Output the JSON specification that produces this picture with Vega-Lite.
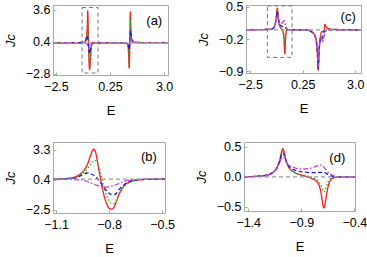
{
  "$schema": "https://vega.github.io/schema/vega-lite/v6.json",
  "padding": {"left": 3, "top": 0, "right": 0, "bottom": 0},
  "config": {
    "view": {"stroke": "#aaaaaa", "strokeWidth": 1},
    "font": "Liberation Sans",
    "axis": {
      "domain": false, "grid": false, "labelFont": "Liberation Sans", "labelFontSize": 12.5, "labelColor": "#000", "labelOverlap": false, "labelFlush": false,
      "tickColor": "#aaaaaa", "tickSize": -3, "labelPadding": 6,
      "titleFont": "Liberation Sans", "titleFontSize": 13, "titleFontWeight": "normal", "titleColor": "#000"
    },
    "axisY": {"titleFontStyle": "italic", "titlePadding": 8, "labelOverlap": false},
    "axisX": {"titlePadding": 12, "labelPadding": 8}
  },
  "datasets": {
    "a": [
      {"s":"1r","E":-2.65,"J":0.3},{"s":"1r","E":-1.3,"J":0.3},{"s":"1r","E":-1.05,"J":0.35},{"s":"1r","E":-0.97,"J":0.6},{"s":"1r","E":-0.93,"J":1.2},{"s":"1r","E":-0.9,"J":2.2},{"s":"1r","E":-0.885,"J":3.5},{"s":"1r","E":-0.875,"J":3.3},{"s":"1r","E":-0.86,"J":1.8},{"s":"1r","E":-0.845,"J":0.5},{"s":"1r","E":-0.83,"J":-0.9},{"s":"1r","E":-0.81,"J":-1.9},{"s":"1r","E":-0.79,"J":-2.4},{"s":"1r","E":-0.775,"J":-2.3},{"s":"1r","E":-0.755,"J":-1.7},{"s":"1r","E":-0.73,"J":-0.8},{"s":"1r","E":-0.7,"J":-0.1},{"s":"1r","E":-0.66,"J":0.2},{"s":"1r","E":-0.55,"J":0.3},{"s":"1r","E":1.0,"J":0.3},{"s":"1r","E":1.15,"J":0.15},{"s":"1r","E":1.19,"J":-0.6},{"s":"1r","E":1.215,"J":-2.0},{"s":"1r","E":1.23,"J":-2.25},{"s":"1r","E":1.245,"J":-1.2},{"s":"1r","E":1.26,"J":0.8},{"s":"1r","E":1.275,"J":2.8},{"s":"1r","E":1.285,"J":3.4},{"s":"1r","E":1.3,"J":2.4},{"s":"1r","E":1.33,"J":1.0},{"s":"1r","E":1.38,"J":0.5},{"s":"1r","E":1.5,"J":0.33},{"s":"1r","E":3.2,"J":0.3},
      {"s":"2g","E":-2.65,"J":0.3},{"s":"2g","E":-1.3,"J":0.3},{"s":"2g","E":-1.0,"J":0.4},{"s":"2g","E":-0.93,"J":1.0},{"s":"2g","E":-0.9,"J":1.8},{"s":"2g","E":-0.88,"J":2.3},{"s":"2g","E":-0.865,"J":1.6},{"s":"2g","E":-0.845,"J":0.6},{"s":"2g","E":-0.83,"J":-0.3},{"s":"2g","E":-0.81,"J":-1.2},{"s":"2g","E":-0.79,"J":-1.8},{"s":"2g","E":-0.775,"J":-1.95},{"s":"2g","E":-0.755,"J":-1.5},{"s":"2g","E":-0.73,"J":-0.7},{"s":"2g","E":-0.7,"J":-0.1},{"s":"2g","E":-0.66,"J":0.2},{"s":"2g","E":-0.55,"J":0.3},{"s":"2g","E":1.0,"J":0.3},{"s":"2g","E":1.15,"J":0.15},{"s":"2g","E":1.19,"J":-0.4},{"s":"2g","E":1.215,"J":-1.6},{"s":"2g","E":1.23,"J":-1.9},{"s":"2g","E":1.245,"J":-0.9},{"s":"2g","E":1.26,"J":0.7},{"s":"2g","E":1.275,"J":2.2},{"s":"2g","E":1.285,"J":2.6},{"s":"2g","E":1.3,"J":1.9},{"s":"2g","E":1.33,"J":0.9},{"s":"2g","E":1.38,"J":0.45},{"s":"2g","E":1.5,"J":0.33},{"s":"2g","E":3.2,"J":0.3},
      {"s":"3b","E":-2.65,"J":0.3},{"s":"3b","E":-1.3,"J":0.3},{"s":"3b","E":-1.0,"J":0.45},{"s":"3b","E":-0.95,"J":0.8},{"s":"3b","E":-0.915,"J":1.0},{"s":"3b","E":-0.88,"J":0.7},{"s":"3b","E":-0.85,"J":0.2},{"s":"3b","E":-0.82,"J":-0.4},{"s":"3b","E":-0.79,"J":-0.75},{"s":"3b","E":-0.77,"J":-0.8},{"s":"3b","E":-0.74,"J":-0.4},{"s":"3b","E":-0.71,"J":0.0},{"s":"3b","E":-0.67,"J":0.2},{"s":"3b","E":-0.55,"J":0.3},{"s":"3b","E":1.0,"J":0.3},{"s":"3b","E":1.15,"J":0.2},{"s":"3b","E":1.2,"J":-0.1},{"s":"3b","E":1.23,"J":-0.4},{"s":"3b","E":1.25,"J":0.2},{"s":"3b","E":1.28,"J":1.2},{"s":"3b","E":1.3,"J":1.5},{"s":"3b","E":1.33,"J":1.0},{"s":"3b","E":1.38,"J":0.55},{"s":"3b","E":1.5,"J":0.33},{"s":"3b","E":3.2,"J":0.3},
      {"s":"4m","E":-2.65,"J":0.3},{"s":"4m","E":-1.3,"J":0.3},{"s":"4m","E":-1.0,"J":0.28},{"s":"4m","E":-0.92,"J":0.15},{"s":"4m","E":-0.86,"J":-0.1},{"s":"4m","E":-0.82,"J":-0.25},{"s":"4m","E":-0.78,"J":-0.15},{"s":"4m","E":-0.73,"J":0.05},{"s":"4m","E":-0.67,"J":0.25},{"s":"4m","E":-0.55,"J":0.3},{"s":"4m","E":1.0,"J":0.3},{"s":"4m","E":1.15,"J":0.25},{"s":"4m","E":1.22,"J":0.05},{"s":"4m","E":1.26,"J":0.3},{"s":"4m","E":1.3,"J":0.75},{"s":"4m","E":1.34,"J":0.6},{"s":"4m","E":1.4,"J":0.4},{"s":"4m","E":1.5,"J":0.32},{"s":"4m","E":3.2,"J":0.3},
      {"s":"5k","E":-2.65,"J":0.3},{"s":"5k","E":3.2,"J":0.3}
    ],
    "b": [
      {"s":"1r","E":-1.117,"J":0.45},{"s":"1r","E":-1.05,"J":0.5},{"s":"1r","E":-1.0,"J":0.62},{"s":"1r","E":-0.97,"J":0.85},{"s":"1r","E":-0.95,"J":1.15},{"s":"1r","E":-0.93,"J":1.6},{"s":"1r","E":-0.915,"J":2.2},{"s":"1r","E":-0.905,"J":2.7},{"s":"1r","E":-0.895,"J":3.15},{"s":"1r","E":-0.888,"J":3.35},{"s":"1r","E":-0.882,"J":3.3},{"s":"1r","E":-0.875,"J":3.0},{"s":"1r","E":-0.868,"J":2.4},{"s":"1r","E":-0.86,"J":1.6},{"s":"1r","E":-0.85,"J":0.7},{"s":"1r","E":-0.84,"J":-0.2},{"s":"1r","E":-0.83,"J":-1.0},{"s":"1r","E":-0.82,"J":-1.6},{"s":"1r","E":-0.81,"J":-2.05},{"s":"1r","E":-0.8,"J":-2.35},{"s":"1r","E":-0.79,"J":-2.45},{"s":"1r","E":-0.78,"J":-2.42},{"s":"1r","E":-0.77,"J":-2.2},{"s":"1r","E":-0.76,"J":-1.8},{"s":"1r","E":-0.75,"J":-1.3},{"s":"1r","E":-0.74,"J":-0.9},{"s":"1r","E":-0.725,"J":-0.45},{"s":"1r","E":-0.71,"J":-0.1},{"s":"1r","E":-0.69,"J":0.12},{"s":"1r","E":-0.67,"J":0.27},{"s":"1r","E":-0.64,"J":0.37},{"s":"1r","E":-0.6,"J":0.42},{"s":"1r","E":-0.55,"J":0.44},{"s":"1r","E":-0.483,"J":0.45},
      {"s":"2g","E":-1.117,"J":0.45},{"s":"2g","E":-1.0,"J":0.6},{"s":"2g","E":-0.96,"J":0.85},{"s":"2g","E":-0.93,"J":1.3},{"s":"2g","E":-0.91,"J":1.75},{"s":"2g","E":-0.895,"J":2.1},{"s":"2g","E":-0.88,"J":2.27},{"s":"2g","E":-0.87,"J":2.2},{"s":"2g","E":-0.86,"J":1.8},{"s":"2g","E":-0.85,"J":1.2},{"s":"2g","E":-0.84,"J":0.5},{"s":"2g","E":-0.83,"J":-0.2},{"s":"2g","E":-0.82,"J":-0.8},{"s":"2g","E":-0.81,"J":-1.3},{"s":"2g","E":-0.8,"J":-1.65},{"s":"2g","E":-0.79,"J":-1.85},{"s":"2g","E":-0.775,"J":-1.92},{"s":"2g","E":-0.76,"J":-1.7},{"s":"2g","E":-0.75,"J":-1.3},{"s":"2g","E":-0.735,"J":-0.8},{"s":"2g","E":-0.72,"J":-0.4},{"s":"2g","E":-0.7,"J":-0.05},{"s":"2g","E":-0.68,"J":0.15},{"s":"2g","E":-0.65,"J":0.32},{"s":"2g","E":-0.6,"J":0.42},{"s":"2g","E":-0.483,"J":0.45},
      {"s":"3b","E":-1.117,"J":0.45},{"s":"3b","E":-1.0,"J":0.55},{"s":"3b","E":-0.97,"J":0.7},{"s":"3b","E":-0.95,"J":0.88},{"s":"3b","E":-0.93,"J":1.02},{"s":"3b","E":-0.915,"J":1.05},{"s":"3b","E":-0.9,"J":0.95},{"s":"3b","E":-0.88,"J":0.75},{"s":"3b","E":-0.86,"J":0.4},{"s":"3b","E":-0.84,"J":-0.1},{"s":"3b","E":-0.82,"J":-0.55},{"s":"3b","E":-0.8,"J":-0.9},{"s":"3b","E":-0.785,"J":-1.05},{"s":"3b","E":-0.77,"J":-1.05},{"s":"3b","E":-0.755,"J":-0.85},{"s":"3b","E":-0.74,"J":-0.5},{"s":"3b","E":-0.72,"J":-0.15},{"s":"3b","E":-0.7,"J":0.1},{"s":"3b","E":-0.67,"J":0.3},{"s":"3b","E":-0.63,"J":0.4},{"s":"3b","E":-0.483,"J":0.45},
      {"s":"4m","E":-1.117,"J":0.45},{"s":"4m","E":-1.0,"J":0.42},{"s":"4m","E":-0.95,"J":0.35},{"s":"4m","E":-0.92,"J":0.2},{"s":"4m","E":-0.89,"J":0.0},{"s":"4m","E":-0.86,"J":-0.2},{"s":"4m","E":-0.83,"J":-0.32},{"s":"4m","E":-0.8,"J":-0.3},{"s":"4m","E":-0.77,"J":-0.15},{"s":"4m","E":-0.74,"J":0.05},{"s":"4m","E":-0.71,"J":0.25},{"s":"4m","E":-0.67,"J":0.38},{"s":"4m","E":-0.6,"J":0.44},{"s":"4m","E":-0.483,"J":0.45},
      {"s":"5k","E":-1.117,"J":0.45},{"s":"5k","E":-0.483,"J":0.45}
    ],
    "c": [
      {"s":"1r","E":-2.72,"J":0},{"s":"1r","E":-1.5,"J":0.01},{"s":"1r","E":-1.3,"J":0.03},{"s":"1r","E":-1.2,"J":0.1},{"s":"1r","E":-1.13,"J":0.3},{"s":"1r","E":-1.08,"J":0.47},{"s":"1r","E":-1.04,"J":0.3},{"s":"1r","E":-0.98,"J":0.12},{"s":"1r","E":-0.9,"J":0.04},{"s":"1r","E":-0.8,"J":-0.03},{"s":"1r","E":-0.74,"J":-0.15},{"s":"1r","E":-0.69,"J":-0.52},{"s":"1r","E":-0.65,"J":-0.2},{"s":"1r","E":-0.6,"J":-0.03},{"s":"1r","E":-0.5,"J":0},{"s":"1r","E":0.4,"J":0},{"s":"1r","E":0.7,"J":-0.04},{"s":"1r","E":0.85,"J":-0.1},{"s":"1r","E":0.95,"J":-0.22},{"s":"1r","E":1.01,"J":-0.45},{"s":"1r","E":1.06,"J":-0.88},{"s":"1r","E":1.1,"J":-0.55},{"s":"1r","E":1.16,"J":-0.2},{"s":"1r","E":1.25,"J":-0.04},{"s":"1r","E":1.36,"J":-0.03},{"s":"1r","E":1.41,"J":0.12},{"s":"1r","E":1.46,"J":0.08},{"s":"1r","E":1.55,"J":0.03},{"s":"1r","E":1.8,"J":0.01},{"s":"1r","E":3.3,"J":0},
      {"s":"2g","E":-2.72,"J":0},{"s":"2g","E":-1.5,"J":0.01},{"s":"2g","E":-1.3,"J":0.03},{"s":"2g","E":-1.2,"J":0.1},{"s":"2g","E":-1.13,"J":0.28},{"s":"2g","E":-1.08,"J":0.42},{"s":"2g","E":-1.04,"J":0.28},{"s":"2g","E":-0.98,"J":0.12},{"s":"2g","E":-0.9,"J":0.04},{"s":"2g","E":-0.8,"J":-0.02},{"s":"2g","E":-0.74,"J":-0.08},{"s":"2g","E":-0.69,"J":-0.25},{"s":"2g","E":-0.65,"J":-0.1},{"s":"2g","E":-0.6,"J":-0.02},{"s":"2g","E":-0.5,"J":0},{"s":"2g","E":0.4,"J":0},{"s":"2g","E":0.7,"J":-0.04},{"s":"2g","E":0.85,"J":-0.1},{"s":"2g","E":0.95,"J":-0.22},{"s":"2g","E":1.01,"J":-0.45},{"s":"2g","E":1.06,"J":-0.85},{"s":"2g","E":1.1,"J":-0.55},{"s":"2g","E":1.16,"J":-0.2},{"s":"2g","E":1.25,"J":-0.05},{"s":"2g","E":1.36,"J":-0.02},{"s":"2g","E":1.41,"J":0.06},{"s":"2g","E":1.46,"J":0.04},{"s":"2g","E":1.55,"J":0.02},{"s":"2g","E":1.8,"J":0.01},{"s":"2g","E":3.3,"J":0},
      {"s":"3b","E":-2.72,"J":0},{"s":"3b","E":-1.5,"J":0.01},{"s":"3b","E":-1.3,"J":0.03},{"s":"3b","E":-1.2,"J":0.1},{"s":"3b","E":-1.13,"J":0.27},{"s":"3b","E":-1.08,"J":0.4},{"s":"3b","E":-1.04,"J":0.28},{"s":"3b","E":-0.98,"J":0.15},{"s":"3b","E":-0.9,"J":0.09},{"s":"3b","E":-0.8,"J":0.07},{"s":"3b","E":-0.7,"J":0.07},{"s":"3b","E":-0.62,"J":0.03},{"s":"3b","E":-0.5,"J":0},{"s":"3b","E":0.4,"J":0},{"s":"3b","E":0.7,"J":-0.04},{"s":"3b","E":0.85,"J":-0.1},{"s":"3b","E":0.95,"J":-0.22},{"s":"3b","E":1.01,"J":-0.45},{"s":"3b","E":1.06,"J":-0.84},{"s":"3b","E":1.1,"J":-0.5},{"s":"3b","E":1.15,"J":-0.25},{"s":"3b","E":1.2,"J":-0.2},{"s":"3b","E":1.26,"J":-0.22},{"s":"3b","E":1.32,"J":-0.1},{"s":"3b","E":1.4,"J":-0.03},{"s":"3b","E":1.6,"J":0},{"s":"3b","E":3.3,"J":0},
      {"s":"4m","E":-2.72,"J":0},{"s":"4m","E":-1.5,"J":0.01},{"s":"4m","E":-1.3,"J":0.03},{"s":"4m","E":-1.2,"J":0.1},{"s":"4m","E":-1.13,"J":0.24},{"s":"4m","E":-1.08,"J":0.33},{"s":"4m","E":-1.04,"J":0.26},{"s":"4m","E":-0.98,"J":0.18},{"s":"4m","E":-0.9,"J":0.13},{"s":"4m","E":-0.8,"J":0.16},{"s":"4m","E":-0.72,"J":0.2},{"s":"4m","E":-0.65,"J":0.1},{"s":"4m","E":-0.59,"J":0.03},{"s":"4m","E":-0.5,"J":0},{"s":"4m","E":0.4,"J":0},{"s":"4m","E":0.7,"J":-0.04},{"s":"4m","E":0.85,"J":-0.1},{"s":"4m","E":0.95,"J":-0.22},{"s":"4m","E":1.01,"J":-0.45},{"s":"4m","E":1.06,"J":-0.8},{"s":"4m","E":1.1,"J":-0.45},{"s":"4m","E":1.15,"J":-0.2},{"s":"4m","E":1.22,"J":-0.15},{"s":"4m","E":1.3,"J":-0.28},{"s":"4m","E":1.36,"J":-0.15},{"s":"4m","E":1.45,"J":-0.03},{"s":"4m","E":1.6,"J":0},{"s":"4m","E":3.3,"J":0},
      {"s":"5k","E":-2.72,"J":0},{"s":"5k","E":3.3,"J":0}
    ],
    "d": [
      {"s":"1r","E":-1.44,"J":0},{"s":"1r","E":-1.3,"J":0.01},{"s":"1r","E":-1.22,"J":0.03},{"s":"1r","E":-1.17,"J":0.07},{"s":"1r","E":-1.13,"J":0.15},{"s":"1r","E":-1.1,"J":0.3},{"s":"1r","E":-1.085,"J":0.42},{"s":"1r","E":-1.075,"J":0.47},{"s":"1r","E":-1.065,"J":0.44},{"s":"1r","E":-1.05,"J":0.32},{"s":"1r","E":-1.03,"J":0.2},{"s":"1r","E":-1.0,"J":0.12},{"s":"1r","E":-0.96,"J":0.07},{"s":"1r","E":-0.92,"J":0.04},{"s":"1r","E":-0.88,"J":0.02},{"s":"1r","E":-0.84,"J":0.0},{"s":"1r","E":-0.8,"J":-0.03},{"s":"1r","E":-0.76,"J":-0.07},{"s":"1r","E":-0.73,"J":-0.15},{"s":"1r","E":-0.71,"J":-0.3},{"s":"1r","E":-0.695,"J":-0.48},{"s":"1r","E":-0.685,"J":-0.52},{"s":"1r","E":-0.675,"J":-0.45},{"s":"1r","E":-0.66,"J":-0.28},{"s":"1r","E":-0.64,"J":-0.12},{"s":"1r","E":-0.62,"J":-0.05},{"s":"1r","E":-0.58,"J":-0.01},{"s":"1r","E":-0.5,"J":0},{"s":"1r","E":-0.393,"J":0},
      {"s":"2g","E":-1.44,"J":0},{"s":"2g","E":-1.3,"J":0.01},{"s":"2g","E":-1.22,"J":0.03},{"s":"2g","E":-1.17,"J":0.07},{"s":"2g","E":-1.13,"J":0.15},{"s":"2g","E":-1.1,"J":0.29},{"s":"2g","E":-1.085,"J":0.39},{"s":"2g","E":-1.075,"J":0.42},{"s":"2g","E":-1.065,"J":0.4},{"s":"2g","E":-1.05,"J":0.31},{"s":"2g","E":-1.03,"J":0.2},{"s":"2g","E":-1.0,"J":0.12},{"s":"2g","E":-0.96,"J":0.07},{"s":"2g","E":-0.92,"J":0.04},{"s":"2g","E":-0.88,"J":0.02},{"s":"2g","E":-0.84,"J":0.01},{"s":"2g","E":-0.8,"J":-0.01},{"s":"2g","E":-0.76,"J":-0.04},{"s":"2g","E":-0.73,"J":-0.09},{"s":"2g","E":-0.71,"J":-0.16},{"s":"2g","E":-0.695,"J":-0.23},{"s":"2g","E":-0.685,"J":-0.25},{"s":"2g","E":-0.675,"J":-0.22},{"s":"2g","E":-0.66,"J":-0.14},{"s":"2g","E":-0.64,"J":-0.06},{"s":"2g","E":-0.62,"J":-0.02},{"s":"2g","E":-0.58,"J":0},{"s":"2g","E":-0.393,"J":0},
      {"s":"3b","E":-1.44,"J":0},{"s":"3b","E":-1.3,"J":0.01},{"s":"3b","E":-1.22,"J":0.03},{"s":"3b","E":-1.17,"J":0.07},{"s":"3b","E":-1.13,"J":0.15},{"s":"3b","E":-1.1,"J":0.28},{"s":"3b","E":-1.085,"J":0.37},{"s":"3b","E":-1.075,"J":0.4},{"s":"3b","E":-1.065,"J":0.38},{"s":"3b","E":-1.05,"J":0.3},{"s":"3b","E":-1.03,"J":0.21},{"s":"3b","E":-1.0,"J":0.15},{"s":"3b","E":-0.96,"J":0.11},{"s":"3b","E":-0.92,"J":0.09},{"s":"3b","E":-0.88,"J":0.08},{"s":"3b","E":-0.82,"J":0.07},{"s":"3b","E":-0.76,"J":0.07},{"s":"3b","E":-0.71,"J":0.075},{"s":"3b","E":-0.68,"J":0.07},{"s":"3b","E":-0.65,"J":0.04},{"s":"3b","E":-0.62,"J":0.015},{"s":"3b","E":-0.58,"J":0},{"s":"3b","E":-0.393,"J":0},
      {"s":"4m","E":-1.44,"J":0},{"s":"4m","E":-1.3,"J":0.01},{"s":"4m","E":-1.22,"J":0.03},{"s":"4m","E":-1.17,"J":0.07},{"s":"4m","E":-1.13,"J":0.14},{"s":"4m","E":-1.1,"J":0.25},{"s":"4m","E":-1.085,"J":0.31},{"s":"4m","E":-1.075,"J":0.33},{"s":"4m","E":-1.065,"J":0.32},{"s":"4m","E":-1.05,"J":0.27},{"s":"4m","E":-1.03,"J":0.22},{"s":"4m","E":-1.0,"J":0.18},{"s":"4m","E":-0.96,"J":0.15},{"s":"4m","E":-0.92,"J":0.13},{"s":"4m","E":-0.88,"J":0.13},{"s":"4m","E":-0.82,"J":0.14},{"s":"4m","E":-0.78,"J":0.16},{"s":"4m","E":-0.74,"J":0.19},{"s":"4m","E":-0.72,"J":0.2},{"s":"4m","E":-0.69,"J":0.17},{"s":"4m","E":-0.66,"J":0.1},{"s":"4m","E":-0.62,"J":0.04},{"s":"4m","E":-0.58,"J":0.01},{"s":"4m","E":-0.53,"J":0},{"s":"4m","E":-0.393,"J":0},
      {"s":"5k","E":-1.44,"J":0},{"s":"5k","E":-0.393,"J":0}
    ]
  },
  "spacing": 22,
  "vconcat": [
    {"spacing": 22, "hconcat": [
      {"width": 115, "height": 70,
       "encoding": {
         "x": {"field": "E", "type": "quantitative", "scale": {"domain": [-2.65, 3.2], "nice": false, "zero": false}, "axis": {"values": [-2.5, 0.25, 3.0], "labelExpr": "datum.value == 0.25 ? '0.25' : format(datum.value, '.1f')", "title": "E", "labelOverlap": false}},
         "y": {"field": "J", "type": "quantitative", "scale": {"domain": [-2.95, 4.1], "nice": false, "zero": false}, "axis": {"values": [-2.8, 0.4, 3.6], "labelExpr": "format(datum.value, '.1f')", "title": "Jc", "labelOverlap": false}}
       },
       "layer": [
        {"data": {"name": "a"}, "mark": {"type": "line", "strokeWidth": 1.3, "interpolate": "monotone"},
         "encoding": {
          "color": {"field": "s", "type": "nominal", "legend": null, "scale": {"domain": ["1r","2g","3b","4m","5k"], "range": ["#ff1a1a","#2faa2f","#1a1ae6","#c040d0","#9a9a9a"]}},
          "strokeDash": {"field": "s", "type": "nominal", "legend": null, "scale": {"domain": ["1r","2g","3b","4m","5k"], "range": [[1,0],[1.5,2],[4,2.5],[5,2,1.5,2],[4,3]]}}
         }},
        {"data": {"values": [{"E": -1.17, "E2": -0.36, "J": -2.75, "J2": 3.85}]}, "mark": {"type": "rect", "fill": null, "stroke": "#777777", "strokeDash": [4, 3], "strokeWidth": 1},
         "encoding": {"x2": {"field": "E2"}, "y2": {"field": "J2"}}},
        {"data": {"values": [{"E": 2.5, "J": 2.5, "t": "(a)"}]}, "mark": {"type": "text", "fontSize": 13, "font": "Liberation Sans"},
         "encoding": {"text": {"field": "t"}}}
       ]},
      {"width": 115, "height": 68,
       "encoding": {
         "x": {"field": "E", "type": "quantitative", "scale": {"domain": [-2.72, 3.3], "nice": false, "zero": false}, "axis": {"values": [-2.5, 0.25, 3.0], "labelExpr": "datum.value == 0.25 ? '0.25' : format(datum.value, '.1f')", "title": "E", "labelOverlap": false}},
         "y": {"field": "J", "type": "quantitative", "scale": {"domain": [-0.94, 0.54], "nice": false, "zero": false}, "axis": {"values": [-0.9, -0.2, 0.5], "labelExpr": "format(datum.value, '.1f')", "title": "Jc", "labelOverlap": false}}
       },
       "layer": [
        {"data": {"name": "c"}, "mark": {"type": "line", "strokeWidth": 1.3, "interpolate": "monotone"},
         "encoding": {
          "color": {"field": "s", "type": "nominal", "legend": null, "scale": {"domain": ["1r","2g","3b","4m","5k"], "range": ["#ff1a1a","#2faa2f","#1a1ae6","#c040d0","#9a9a9a"]}},
          "strokeDash": {"field": "s", "type": "nominal", "legend": null, "scale": {"domain": ["1r","2g","3b","4m","5k"], "range": [[1,0],[1.5,2],[4,2.5],[5,2,1.5,2],[4,3]]}}
         }},
        {"data": {"values": [{"E": -1.6, "E2": -0.31, "J": -0.6, "J2": 0.52}]}, "mark": {"type": "rect", "fill": null, "stroke": "#777777", "strokeDash": [4, 3], "strokeWidth": 1},
         "encoding": {"x2": {"field": "E2"}, "y2": {"field": "J2"}}},
        {"data": {"values": [{"E": 2.63, "J": 0.27, "t": "(c)"}]}, "mark": {"type": "text", "fontSize": 13, "font": "Liberation Sans"},
         "encoding": {"text": {"field": "t"}}}
       ]}
    ]},
    {"spacing": 19, "hconcat": [
      {"width": 112, "height": 71,
       "encoding": {
         "x": {"field": "E", "type": "quantitative", "scale": {"domain": [-1.117, -0.483], "nice": false, "zero": false}, "axis": {"values": [-1.1, -0.8, -0.5], "labelExpr": "format(datum.value, '.1f')", "title": "E", "labelOverlap": false}},
         "y": {"field": "J", "type": "quantitative", "scale": {"domain": [-2.82, 4.04], "nice": false, "zero": false}, "axis": {"values": [-2.5, 0.4, 3.3], "labelExpr": "format(datum.value, '.1f')", "title": "Jc", "labelOverlap": false}}
       },
       "layer": [
        {"data": {"name": "b"}, "mark": {"type": "line", "strokeWidth": 1.3, "interpolate": "monotone"},
         "encoding": {
          "color": {"field": "s", "type": "nominal", "legend": null, "scale": {"domain": ["1r","2g","3b","4m","5k"], "range": ["#ff1a1a","#2faa2f","#1a1ae6","#c040d0","#9a9a9a"]}},
          "strokeDash": {"field": "s", "type": "nominal", "legend": null, "scale": {"domain": ["1r","2g","3b","4m","5k"], "range": [[1,0],[1.5,2],[4,2.5],[5,2,1.5,2],[4,3]]}}
         }},
        {"data": {"values": [{"E": -0.574, "J": 2.6, "t": "(b)"}]}, "mark": {"type": "text", "fontSize": 13, "font": "Liberation Sans"},
         "encoding": {"text": {"field": "t"}}}
       ]},
      {"width": 111, "height": 69,
       "encoding": {
         "x": {"field": "E", "type": "quantitative", "scale": {"domain": [-1.44, -0.393], "nice": false, "zero": false}, "axis": {"values": [-1.4, -0.9, -0.4], "labelExpr": "format(datum.value, '.1f')", "title": "E", "labelOverlap": false}},
         "y": {"field": "J", "type": "quantitative", "scale": {"domain": [-0.57, 0.58], "nice": false, "zero": false}, "axis": {"values": [-0.5, 0.0, 0.5], "labelExpr": "format(datum.value, '.1f')", "title": "Jc", "labelOverlap": false}}
       },
       "layer": [
        {"data": {"name": "d"}, "mark": {"type": "line", "strokeWidth": 1.3, "interpolate": "monotone"},
         "encoding": {
          "color": {"field": "s", "type": "nominal", "legend": null, "scale": {"domain": ["1r","2g","3b","4m","5k"], "range": ["#ff1a1a","#2faa2f","#1a1ae6","#c040d0","#9a9a9a"]}},
          "strokeDash": {"field": "s", "type": "nominal", "legend": null, "scale": {"domain": ["1r","2g","3b","4m","5k"], "range": [[1,0],[1.5,2],[4,2.5],[5,2,1.5,2],[4,3]]}}
         }},
        {"data": {"values": [{"E": -0.56, "J": 0.32, "t": "(d)"}]}, "mark": {"type": "text", "fontSize": 13, "font": "Liberation Sans"},
         "encoding": {"text": {"field": "t"}}}
       ]}
    ]}
  ]
}
